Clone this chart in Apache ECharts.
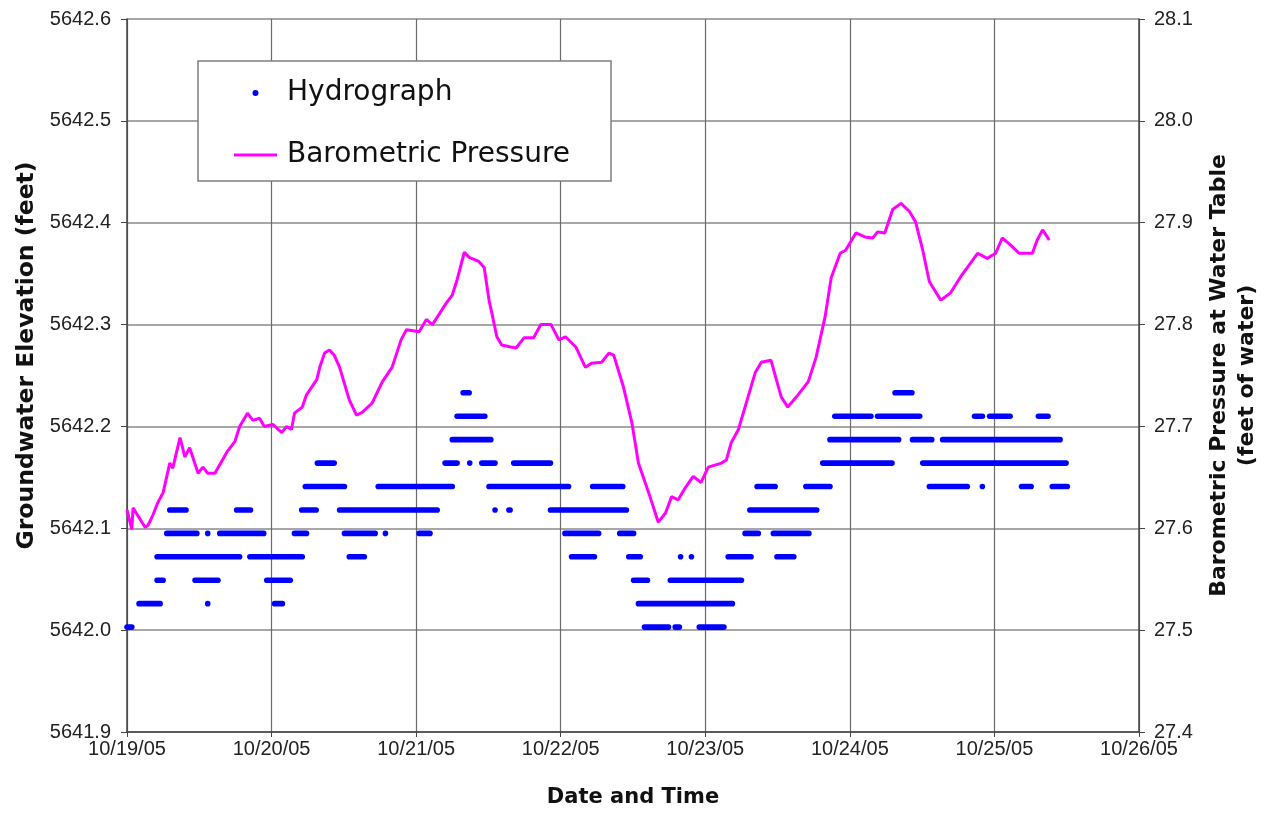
<!DOCTYPE html>
<html>
<head>
<meta charset="utf-8">
<script src="https://cdn.jsdelivr.net/npm/echarts@6/dist/echarts.min.js"></script>
<style>
html,body{margin:0;padding:0;background:#fff;}
#chart{width:1269px;height:814px;}
</style>
</head>
<body>
<div id="chart"></div>
<script>
// X axis: hours since 10/19/05 00:00
const dateLabels = ['10/19/05','10/20/05','10/21/05','10/22/05','10/23/05','10/24/05','10/25/05','10/26/05'];

// Barometric pressure (feet of water, right axis)
const baroHours = [0,0.8,1.0,3.0,3.5,4.3,5.1,6.0,7.1,7.6,8.8,9.6,10.4,11.8,12.6,13.4,14.6,16.6,17.9,18.7,20.0,20.9,22.0,22.8,24.2,25.7,26.5,27.3,27.8,29.1,29.8,31.5,32.0,32.8,33.6,34.4,35.3,36.9,38.1,39.1,40.7,42.4,44.0,45.5,46.4,48.5,49.7,50.7,51.8,53.0,54.0,54.8,56.0,56.8,58.4,59.3,60.1,61.4,62.2,63.7,64.6,65.9,67.5,68.7,70.4,71.7,72.8,74.5,76.1,77.1,78.8,80.0,80.8,82.4,83.8,84.9,86.6,88.2,89.4,90.4,91.5,92.7,94.0,95.3,96.5,98.7,99.5,100.3,101.5,103.1,104.3,105.3,106.9,108.6,109.7,111.4,113.1,114.4,115.9,116.9,118.4,119.3,121.0,122.5,123.8,124.6,125.8,127.1,128.5,129.9,130.9,132.1,133.2,135.1,136.7,138.4,139.5,141.2,142.8,144.2,145.3,146.7,148.1,150.3,151.1,152.0,153.1];
const baroValues = [27.618,27.599,27.620,27.601,27.603,27.613,27.625,27.635,27.664,27.659,27.689,27.670,27.679,27.654,27.660,27.654,27.654,27.675,27.685,27.700,27.713,27.706,27.708,27.700,27.702,27.694,27.700,27.697,27.713,27.719,27.731,27.746,27.758,27.772,27.775,27.770,27.758,27.726,27.711,27.714,27.723,27.744,27.758,27.785,27.795,27.793,27.805,27.800,27.810,27.821,27.829,27.844,27.871,27.866,27.862,27.856,27.824,27.788,27.780,27.778,27.777,27.787,27.787,27.800,27.800,27.785,27.788,27.778,27.758,27.762,27.763,27.772,27.770,27.739,27.704,27.664,27.635,27.606,27.615,27.631,27.628,27.640,27.651,27.645,27.660,27.664,27.667,27.684,27.697,27.729,27.753,27.763,27.765,27.729,27.719,27.731,27.744,27.768,27.808,27.846,27.870,27.873,27.890,27.886,27.885,27.891,27.890,27.913,27.919,27.911,27.901,27.873,27.842,27.824,27.831,27.847,27.856,27.870,27.865,27.870,27.885,27.878,27.870,27.870,27.883,27.893,27.883];

// Hydrograph: runs of constant readings (start hour, end hour, elevation in feet)
const hydroStart = [0,85.9,91.0,95.0, 2.0,13.4,24.5,84.9, 5.0,11.3,23.2,84.1,90.2, 5.0,20.4,36.9,73.8,83.3,91.9,93.7,99.8,107.9, 6.6,13.4,15.4,27.8,36.1,42.9,48.5,72.7,81.8,102.6,107.3, 7.1,18.2,29.0,35.3,61.1,63.4,70.3,103.4, 29.6,41.7,60.1,77.3,104.6,112.7,133.2,142.0,148.5,153.6, 31.6,52.8,56.9,58.9,64.2,115.5,132.1, 54.0,116.7,130.4,135.4, 54.8,117.5,124.6,140.7,143.2,151.3, 55.8,127.5];
const hydroEnd   = [0.8,89.9,91.7,99.1, 5.5,13.4,25.8,100.5, 6.0,15.1,27.1,86.4,102.0, 18.7,29.1,39.4,77.6,85.2,91.9,93.7,103.6,110.7, 11.6,13.4,22.7,29.8,41.2,42.9,50.3,78.3,84.1,104.8,113.2, 9.8,20.5,31.4,51.5,61.1,63.6,82.9,114.5, 36.1,54.0,73.3,82.3,107.6,116.7,139.5,142.0,150.1,156.1, 34.4,54.8,56.9,61.1,70.3,127.0,155.9, 60.4,128.1,133.6,154.9, 59.4,123.5,131.6,142.0,146.6,152.9, 56.8,130.3];
const hydroLevel = [5642.003,5642.003,5642.003,5642.003, 5642.026,5642.026,5642.026,5642.026, 5642.049,5642.049,5642.049,5642.049,5642.049, 5642.072,5642.072,5642.072,5642.072,5642.072,5642.072,5642.072,5642.072,5642.072, 5642.095,5642.095,5642.095,5642.095,5642.095,5642.095,5642.095,5642.095,5642.095,5642.095,5642.095, 5642.118,5642.118,5642.118,5642.118,5642.118,5642.118,5642.118,5642.118, 5642.141,5642.141,5642.141,5642.141,5642.141,5642.141,5642.141,5642.141,5642.141,5642.141, 5642.164,5642.164,5642.164,5642.164,5642.164,5642.164,5642.164, 5642.187,5642.187,5642.187,5642.187, 5642.210,5642.210,5642.210,5642.210,5642.210,5642.210, 5642.233,5642.233];

const hydroData = hydroStart.map((s, i) => [s, hydroEnd[i], hydroLevel[i]]);
const baroData = baroHours.map((h, i) => [h, baroValues[i]]);

const chart = echarts.init(document.getElementById('chart'), null, {renderer: 'canvas'});
const tickFont = {fontFamily: 'Liberation Sans, Arial, sans-serif', fontSize: 20, color: '#222'};
const titleBase = {fontFamily: 'DejaVu Sans, sans-serif', fontWeight: 'bold', color: '#111'};

chart.setOption({
  animation: false,
  backgroundColor: '#fff',
  grid: {left: 127, right: 127, top: 19, bottom: 82, containLabel: false},
  legend: {
    orient: 'vertical',
    left: 198, top: 61,
    padding: [17, 41, 11, 36],
    itemGap: 32,
    itemWidth: 43, itemHeight: 6,
    backgroundColor: '#fff',
    borderColor: '#7f7f7f', borderWidth: 1.5,
    textStyle: {fontFamily: 'DejaVu Sans, sans-serif', fontSize: 28, color: '#111', lineHeight: 30, padding: [0, 0, 0, 5]},
    data: [
      {name: 'Hydrograph', icon: 'circle', itemStyle: {color: '#0000ff'}},
      {name: 'Barometric Pressure', icon: 'path://M0,0 L43,0 L43,3 L0,3 Z', itemStyle: {color: '#ff00ff'}}
    ]
  },
  xAxis: {
    type: 'value', min: 0, max: 168, interval: 24,
    name: 'Date and Time', nameLocation: 'middle', nameGap: 55,
    nameTextStyle: Object.assign({fontSize: 21}, titleBase),
    axisLine: {show: true, lineStyle: {color: '#444', width: 1.5}},
    axisTick: {show: true, inside: false, length: 5, lineStyle: {color: '#444'}},
    axisLabel: Object.assign({margin: 7, formatter: v => dateLabels[Math.round(v / 24)]}, tickFont),
    splitLine: {show: true, lineStyle: {color: '#6a6a6a', width: 1.2}}
  },
  yAxis: [
    {
      type: 'value', min: 5641.9, max: 5642.6, interval: 0.1, position: 'left',
      name: 'Groundwater Elevation (feet)', nameLocation: 'middle', nameGap: 85, nameRotate: 90,
      nameTextStyle: Object.assign({fontSize: 23.5, padding: [0, 0, 0, 40]}, titleBase),
      axisLine: {show: true, lineStyle: {color: '#444', width: 1.5}},
      axisTick: {show: true, inside: false, length: 6, lineStyle: {color: '#444'}},
      axisLabel: Object.assign({margin: 16, formatter: v => v.toFixed(1)}, tickFont),
      splitLine: {show: true, lineStyle: {color: '#8a8a8a', width: 1.5}}
    },
    {
      type: 'value', min: 27.4, max: 28.1, interval: 0.1, position: 'right',
      name: 'Barometric Pressure at Water Table\n(feet of water)', nameLocation: 'middle', nameGap: 66, nameRotate: 90,
      nameTextStyle: Object.assign({fontSize: 22, lineHeight: 28, align: 'center'}, titleBase),
      axisLine: {show: true, lineStyle: {color: '#444', width: 1.5}},
      axisTick: {show: true, inside: false, length: 6, lineStyle: {color: '#444'}},
      axisLabel: Object.assign({margin: 15, formatter: v => v.toFixed(1)}, tickFont),
      splitLine: {show: false}
    }
  ],
  series: [
    {
      name: 'Hydrograph',
      type: 'custom',
      xAxisIndex: 0, yAxisIndex: 0,
      encode: {x: [0, 1], y: 2},
      data: hydroData,
      itemStyle: {color: '#0000ff'},
      z: 3,
      renderItem: function (params, api) {
        const p1 = api.coord([api.value(0), api.value(2)]);
        const p2 = api.coord([api.value(1), api.value(2)]);
        const r = 2.8;
        return {
          type: 'rect',
          shape: {x: p1[0] - r, y: p1[1] - r, width: p2[0] - p1[0] + 2 * r, height: 2 * r, r: r},
          style: {fill: '#0000ff'}
        };
      }
    },
    {
      name: 'Barometric Pressure',
      type: 'line',
      yAxisIndex: 1,
      data: baroData,
      showSymbol: false, symbol: 'none',
      lineStyle: {color: '#ff00ff', width: 3},
      itemStyle: {color: '#ff00ff'},
      z: 4
    }
  ]
});
</script>
</body>
</html>
